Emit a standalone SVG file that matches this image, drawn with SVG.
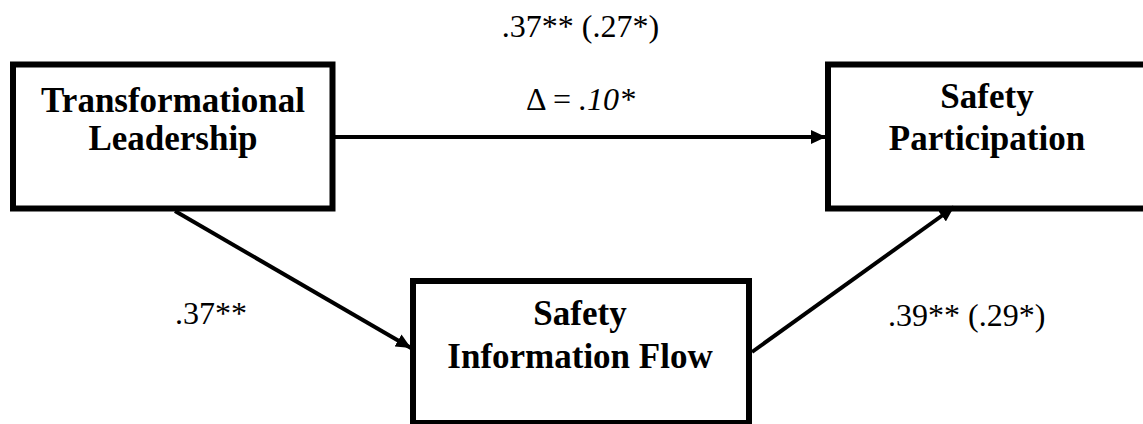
<svg xmlns="http://www.w3.org/2000/svg" width="1143" height="424" viewBox="0 0 1143 424">
  <style>
    .box { fill: #ffffff; stroke: #000000; stroke-width: 6; }
    .title { font-family: "Liberation Serif", "DejaVu Serif", serif; font-weight: bold; font-size: 35px; fill: #000000; text-anchor: middle; }
    .coef { font-family: "Liberation Serif", "DejaVu Serif", serif; font-size: 32px; fill: #000000; }
    .link { fill: none; stroke: #000000; stroke-width: 4; }
  </style>
  <defs>
    <marker id="arrow" markerUnits="userSpaceOnUse" markerWidth="16" markerHeight="14" refX="15" refY="7" orient="auto">
      <path d="M0,0 L15,7 L0,14 Z" fill="#000000"/>
    </marker>
  </defs>
  <rect width="1143" height="424" fill="#ffffff"/>

  <g id="transformational-leadership">
    <rect class="box" x="13" y="64.5" width="319.5" height="144"/>
    <text class="title" x="173" y="112">Transformational</text>
    <text class="title" x="173" y="150">Leadership</text>
  </g>

  <g id="safety-participation">
    <rect class="box" x="828" y="64.5" width="320" height="144"/>
    <text class="title" x="987" y="108">Safety</text>
    <text class="title" x="987" y="150">Participation</text>
  </g>

  <g id="safety-information-flow">
    <rect class="box" x="413" y="281" width="336" height="142"/>
    <text class="title" x="580" y="325">Safety</text>
    <text class="title" x="580" y="368">Information Flow</text>
  </g>

  <g id="connectors">
    <line class="link" x1="335" y1="137" x2="826" y2="137" marker-end="url(#arrow)"/>
    <line class="link" x1="175" y1="211" x2="411" y2="348" marker-end="url(#arrow)"/>
    <line class="link" x1="752" y1="352" x2="954" y2="207" marker-end="url(#arrow)"/>
  </g>

  <g id="labels">
    <text class="coef" x="580.5" y="37" text-anchor="middle">.37** (.27*)</text>
    <text class="coef" x="580.5" y="110" text-anchor="middle">Δ = <tspan font-style="italic">.10*</tspan></text>
    <text class="coef" x="175" y="324">.37**</text>
    <text class="coef" x="888" y="326">.39** (.29*)</text>
  </g>
</svg>
